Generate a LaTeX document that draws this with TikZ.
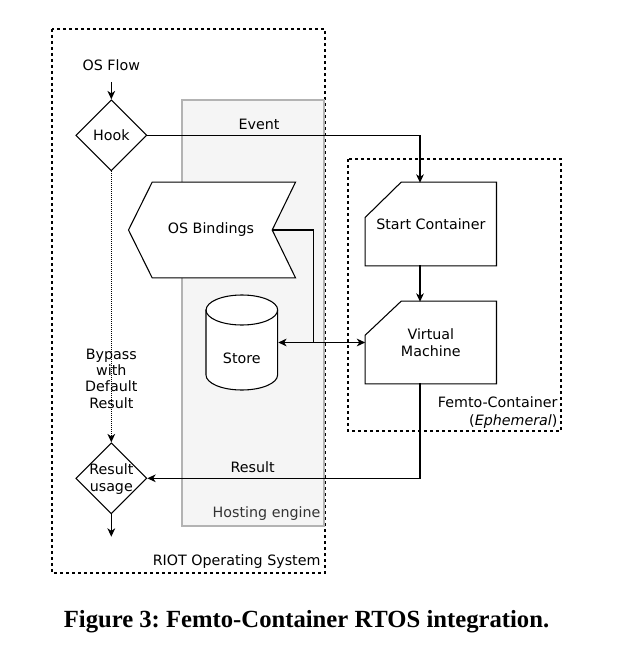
\documentclass[tikz,border=0pt]{standalone}
\usepackage{fontspec}
\setmainfont{DejaVu Sans}
\newfontfamily\capfont{Liberation Serif}
\usetikzlibrary{arrows.meta,shapes.geometric,calc}
\definecolor{hostfill}{HTML}{F5F5F5}
\definecolor{hostdraw}{HTML}{B3B3B3}
\definecolor{hosttext}{HTML}{333333}
\frenchspacing
\begin{document}
\begin{tikzpicture}[x=0.75pt,y=-0.75pt,line width=0.8pt,
  >={Stealth[length=6.3pt,width=5.8pt,inset=1.9pt]},
  txt/.style={font=\fontsize{10.7}{12.4}\selectfont,inner sep=0pt,align=center},
  dia/.style={diamond,draw,minimum width=53.25pt,minimum height=53.25pt,inner sep=0pt,fill=white,font=\fontsize{10.7}{12.4}\selectfont},
  ghost/.style={draw=none,inner sep=0pt,rectangle,font=\fontsize{10.7}{12.6}\selectfont,align=center},
  dashbox/.style={draw,dash pattern=on 2.25pt off 2.25pt},
  dotline/.style={dash pattern=on 0.75pt off 0.75pt}
]
\useasboundingbox (0,0) rectangle (618,667);
% containers
\draw[dashbox] (52,29) rectangle (325,573);
\draw[fill=hostfill,draw=hostdraw] (182,100) rectangle (324,526);
\draw[dashbox] (348,159) rectangle (561,431);
\node[txt,text=hosttext,anchor=east] (hostlbl) at (321,514) {Hosting engine};
\node[txt,anchor=east] (riotlbl) at (321,562) {RIOT Operating System};
\node[txt,anchor=east,align=right,font=\fontsize{10.7}{14}\selectfont] (femtolbl) at (558,412.4) {Femto-Container\\(\textit{Ephemeral})};
% nodes
\node[txt] (osflow) at (111.3,65) {OS Flow};
\coordinate (osflowend) at (111.3,82);
\node[dia] (hook) at (111.3,135.3) {Hook};
\node[dia] (ru) at (111.3,478.3) {};
\node[txt] (rutxt) at (111.3,479) {Result\\usage};
\coordinate (out) at (111.3,536.7);
\node[ghost,minimum width=97.7pt,minimum height=62pt] (sc) at (430.85,224) {};
\node[ghost,minimum width=97.7pt,minimum height=61.2pt] (vm) at (430.85,342.5) {};
\draw[fill=white] ($(sc.north west)+(0,35.3)$) -- ($(sc.north west)+(36,0)$) -- (sc.north east) -- (sc.south east) -- (sc.south west) -- cycle;
\draw[fill=white] ($(vm.north west)+(0,34)$) -- ($(vm.north west)+(36,0)$) -- (vm.north east) -- (vm.south east) -- (vm.south west) -- cycle;
\node[ghost] (sctxt) at (sc.center) {Start Container};
\node[ghost] (vmtxt) at (vm.center) {Virtual\\Machine};
\node[ghost,minimum width=106.7pt,minimum height=71pt] (osb) at (223.85,230) {};
\draw[fill=white] (osb.north west) -- (osb.north east) -- ($(osb.east)+(-23.3,0)$) -- (osb.south east) -- (osb.south west) -- ($(osb.west)+(-23.7,0)$) -- cycle;
\node[txt] (osbtxt) at (211,230) {OS Bindings};
\coordinate (notch) at ($(osb.east)+(-23.3,0)$);
\node[ghost,minimum width=53.8pt,minimum height=71.25pt] (st) at (241.85,342.5) {};
\draw[fill=white] (206,310) -- (206,375) arc(180:360:26.85pt and 11.25pt) -- (277.7,310) arc(0:180:26.85pt and 11.25pt) -- cycle;
\draw (206,310) arc(180:360:26.85pt and 11.25pt);
\node[txt] (sttxt) at (241.85,358) {Store};
% connectors
\coordinate (scin) at (420,182.7);
\coordinate (vmin) at (420,301.7);
\coordinate (scout) at (420,265.3);
\coordinate (vmout) at (420,383.3);
\coordinate (jn) at (313.3,342.5);
\draw[->] (osflowend) -- (hook.north);
\draw[->] (hook.east) -| (scin);
\node[txt] (eventlbl) at (259,124) {Event};
\draw[->] (scout) -- (vmin);
\draw (notch) -| (jn);
\draw[<->] (st.east) -- (vm.west);
\draw[->,dotline] (hook.south) -- (ru.north);
\node[txt,font=\fontsize{10.7}{12.2}\selectfont] (bypass) at (111.3,378.5) {Bypass\\with\\Default\\Result};
\draw[->] (vmout) |- (ru.east);
\node[txt] (resultlbl) at (252.7,466.7) {Result};
\draw[->] (ru.south) -- (out);
% caption
\node[inner sep=0pt,anchor=base,font=\capfont\bfseries\fontsize{18.5}{21}\selectfont] (caption) at (306.5,627.3) {Figure 3: Femto-Container RTOS integration.};
\end{tikzpicture}
\end{document}
